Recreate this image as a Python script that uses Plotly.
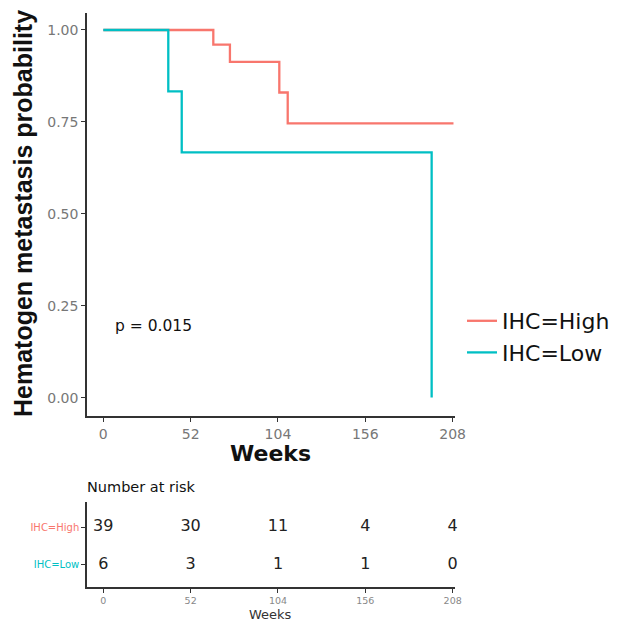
import plotly.graph_objects as go

# Data
high_t = [0, 65.5, 75.4, 104.8, 109.8, 208.5]
high_s = [1.0, 0.96, 0.913, 0.83, 0.746, 0.746]
low_t = [0, 38.7, 46.7, 195.5]
low_s = [1.0, 0.833, 0.667, 0.0]
risk_times = [0, 52, 104, 156, 208]
risk_high = [39, 30, 11, 4, 4]
risk_low = [6, 3, 1, 1, 0]
groups = ["IHC=High", "IHC=Low"]
colors = ["#F8766D", "#00BFC4"]
xticks = [0, 52, 104, 156, 208]
yticks = [0, 0.25, 0.5, 0.75, 1.0]
ytick_text = ["0.00", "0.25", "0.50", "0.75", "1.00"]
pval_text = "p = 0.015"

FONT = "DejaVu Sans, Liberation Sans, Arial, sans-serif"
TITLE_FONT = "Liberation Sans, Arial, sans-serif"
W = H = 616  # page body has an 8px margin
OFF = 8


def px(x):
    return (x - OFF) / W


def py(y):
    return 1 - (y - OFF) / H


fig = go.Figure()
fig.add_trace(go.Scatter(x=high_t, y=high_s, mode="lines", line=dict(shape="hv", color=colors[0], width=2.3),
                         name=groups[0], xaxis="x", yaxis="y"))
fig.add_trace(go.Scatter(x=low_t, y=low_s, mode="lines", line=dict(shape="hv", color=colors[1], width=2.3),
                         name=groups[1], xaxis="x", yaxis="y"))
# risk table
fig.add_trace(go.Scatter(x=risk_times, y=[2] * len(risk_times), mode="text", cliponaxis=False,
                         text=[str(v) for v in risk_high], textfont=dict(size=16, color="#222", family=FONT),
                         showlegend=False, xaxis="x2", yaxis="y2", hoverinfo="skip"))
fig.add_trace(go.Scatter(x=risk_times, y=[1] * len(risk_times), mode="text", cliponaxis=False,
                         text=[str(v) for v in risk_low], textfont=dict(size=16, color="#222", family=FONT),
                         showlegend=False, xaxis="x2", yaxis="y2", hoverinfo="skip"))

axis_common = dict(showline=True, linecolor="#333", linewidth=1.5, ticks="outside", ticklen=4,
                   tickcolor="#333", showgrid=False, zeroline=False, mirror=False, automargin=False)

xdom = [px(87), px(455)]
fig.update_layout(
    width=W, height=H, margin=dict(l=0, r=0, t=0, b=0, autoexpand=False),
    paper_bgcolor="white", plot_bgcolor="white",
    font=dict(family=FONT),
    xaxis=dict(domain=xdom, range=[-9.7, 209.4], tickvals=xticks,
               tickfont=dict(size=14, color="#777"), anchor="y", **axis_common),
    yaxis=dict(domain=[py(416), py(12.7)], range=[-0.05, 1.047], tickvals=yticks, ticktext=ytick_text,
               tickfont=dict(size=14, color="#777"), anchor="x", **axis_common),
    xaxis2=dict(domain=xdom, range=[-9.7, 209.4], tickvals=xticks,
                tickfont=dict(size=9.5, color="#888"), anchor="y2", **axis_common),
    yaxis2=dict(domain=[py(587), py(502)], range=[0.42, 2.66], tickvals=[2, 1],
                ticktext=["<span style='color:%s'>%s</span>" % (colors[0], groups[0]),
                          "<span style='color:%s'>%s</span>" % (colors[1], groups[1])],
                tickfont=dict(size=10), anchor="x2", **axis_common),
    legend=dict(x=px(462), y=py(337), xanchor="left", yanchor="middle", font=dict(size=22, color="#111"),
                bgcolor="rgba(0,0,0,0)", tracegroupgap=0, itemwidth=30),
    showlegend=True,
    annotations=[
        dict(text="<b>Hematogen metastasis probability</b>", x=px(23), y=py(214), xref="paper", yref="paper",
             textangle=-90, showarrow=False, font=dict(size=25, color="#111", family=TITLE_FONT),
             xanchor="center", yanchor="middle"),
        dict(text="<b>Weeks</b>", x=px(270), y=py(453), xref="paper", yref="paper",
             showarrow=False, font=dict(size=22, color="#111"), xanchor="center", yanchor="middle"),
        dict(text=pval_text, x=5.8, y=0.195, xref="x", yref="y", showarrow=False,
             font=dict(size=15.5, color="#111"), xanchor="left", yanchor="middle"),
        dict(text="Number at risk", x=px(85), y=py(487), xref="paper", yref="paper",
             showarrow=False, font=dict(size=14.5, color="#111"), xanchor="left", yanchor="middle"),
        dict(text="Weeks", x=px(270), y=py(614), xref="paper", yref="paper",
             showarrow=False, font=dict(size=13, color="#333"), xanchor="center", yanchor="middle"),
    ],
)

fig.write_html("out.html")
